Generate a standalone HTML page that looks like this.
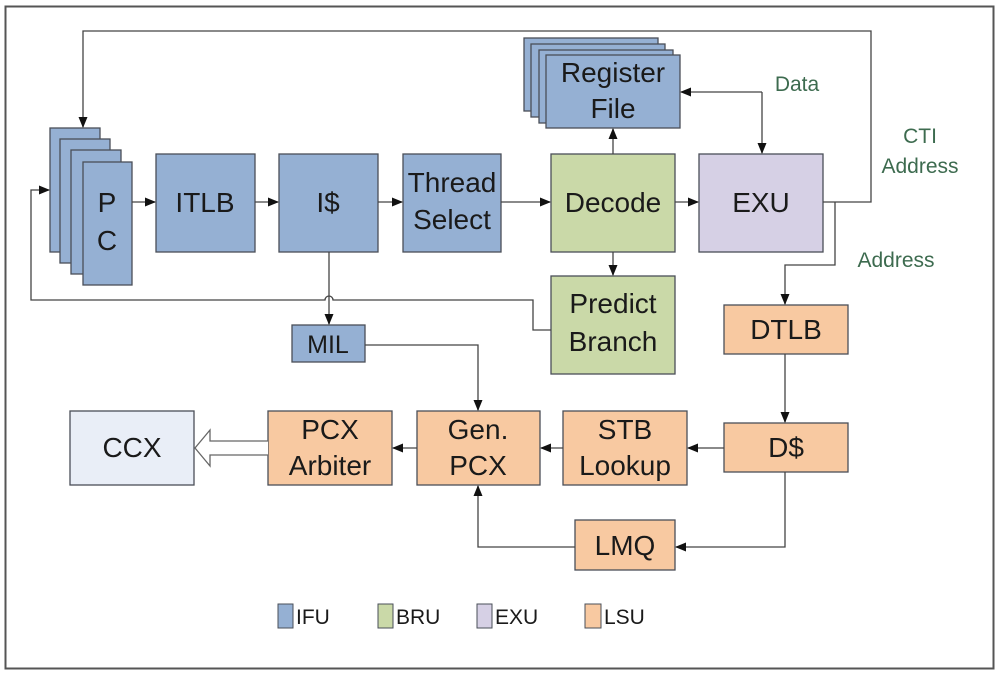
<!DOCTYPE html>
<html><head><meta charset="utf-8"><style>
html,body{margin:0;padding:0;background:#fff;}
svg{display:block;font-family:"Liberation Sans",sans-serif;}
.b{fill:#95b0d3;stroke:#4a4f58;stroke-width:1.3}
.g{fill:#cad9a8;stroke:#4a4f58;stroke-width:1.3}
.p{fill:#d6d0e5;stroke:#4a4f58;stroke-width:1.3}
.o{fill:#f8c9a1;stroke:#4a4f58;stroke-width:1.3}
.l{fill:none;stroke:#444;stroke-width:1.3}
.t{font-size:28px;fill:#1a1a1a;text-anchor:middle}
.lb{font-size:21px;fill:#3d6b4f;text-anchor:middle}
.lg{font-size:21px;fill:#1a1a1a}
</style></head><body>
<svg width="1000" height="680" viewBox="0 0 1000 680">
<defs><marker id="a" markerWidth="11" markerHeight="9" refX="10" refY="4.5" orient="auto" markerUnits="userSpaceOnUse"><path d="M0,0 L11,4.5 L0,9z" fill="#111"/></marker></defs>
<rect x="5.5" y="6.5" width="988" height="662" fill="#fff" stroke="#555" stroke-width="2"/>
<rect class="b" x="50" y="128" width="50" height="124"/>
<rect class="b" x="60" y="139" width="50" height="124"/>
<rect class="b" x="71" y="150" width="50" height="124"/>
<rect class="b" x="83" y="162" width="49" height="123"/>
<text class="t" x="107" y="212">P</text><text class="t" x="107" y="250">C</text>
<rect class="b" x="156" y="154" width="99" height="98"/><text class="t" x="205" y="212">ITLB</text>
<rect class="b" x="279" y="154" width="99" height="98"/><text class="t" x="328" y="212">I$</text>
<rect class="b" x="403" y="154" width="98" height="98"/><text class="t" x="452" y="192">Thread</text><text class="t" x="452" y="229">Select</text>
<rect class="g" x="551" y="154" width="124" height="98"/><text class="t" x="613" y="212">Decode</text>
<rect class="p" x="699" y="154" width="124" height="98"/><text class="t" x="761" y="212">EXU</text>
<rect class="b" x="524" y="38" width="134" height="73"/>
<rect class="b" x="531" y="44" width="134" height="73"/>
<rect class="b" x="539" y="50" width="134" height="73"/>
<rect class="b" x="546" y="55" width="134" height="73"/>
<text class="t" x="613" y="82">Register</text><text class="t" x="613" y="118">File</text>
<rect class="g" x="551" y="276" width="124" height="98"/><text class="t" x="613" y="313">Predict</text><text class="t" x="613" y="351">Branch</text>
<rect class="o" x="724" y="305" width="124" height="49"/><text class="t" x="786" y="339">DTLB</text>
<rect class="o" x="724" y="423" width="124" height="49"/><text class="t" x="786" y="457">D$</text>
<rect class="o" x="563" y="411" width="124" height="74"/><text class="t" x="625" y="439">STB</text><text class="t" x="625" y="475">Lookup</text>
<rect class="o" x="417" y="411" width="123" height="74"/><text class="t" x="478" y="439">Gen.</text><text class="t" x="478" y="475">PCX</text>
<rect class="o" x="268" y="411" width="124" height="74"/><text class="t" x="330" y="439">PCX</text><text class="t" x="330" y="475">Arbiter</text>
<rect x="70" y="411" width="124" height="74" fill="#e9eef7" stroke="#4a4f58" stroke-width="1.3"/><text class="t" x="132" y="457">CCX</text>
<rect class="o" x="575" y="520" width="100" height="50"/><text class="t" x="625" y="555">LMQ</text>
<rect class="b" x="292" y="325" width="73" height="37"/><text class="t" x="328" y="353" style="font-size:25px">MIL</text>
<path class="l" d="M132,202 H155" marker-end="url(#a)"/>
<path class="l" d="M255,202 H278" marker-end="url(#a)"/>
<path class="l" d="M378,202 H402" marker-end="url(#a)"/>
<path class="l" d="M501,202 H550" marker-end="url(#a)"/>
<path class="l" d="M675,202 H698" marker-end="url(#a)"/>
<path class="l" d="M823,202 H871 V31 H83 V127" marker-end="url(#a)"/>
<path class="l" d="M835,202 V265 H785 V304" marker-end="url(#a)"/>
<path class="l" d="M762,92 V153" marker-end="url(#a)"/>
<path class="l" d="M762,92 H681" marker-end="url(#a)"/>
<path class="l" d="M613,154 V129" marker-end="url(#a)"/>
<path class="l" d="M613,252 V275" marker-end="url(#a)"/>
<path class="l" d="M551,330 H533 V300 H333 A4,4 0 0 0 325,300 H31 V190 H49" marker-end="url(#a)"/>
<path class="l" d="M329,252 V324" marker-end="url(#a)"/>
<path class="l" d="M365,345 H478 V410" marker-end="url(#a)"/>
<path class="l" d="M785,354 V422" marker-end="url(#a)"/>
<path class="l" d="M724,448 H688" marker-end="url(#a)"/>
<path class="l" d="M563,448 H541" marker-end="url(#a)"/>
<path class="l" d="M417,448 H393" marker-end="url(#a)"/>
<path class="l" d="M785,472 V547 H676" marker-end="url(#a)"/>
<path class="l" d="M575,547 H478 V486" marker-end="url(#a)"/>
<path d="M268,441 H210 V430 L195,448 L210,466 V455 H268" fill="#fff" stroke="#666" stroke-width="1.3"/>
<text class="lb" x="797" y="91">Data</text>
<text class="lb" x="920" y="143">CTI</text>
<text class="lb" x="920" y="173">Address</text>
<text class="lb" x="896" y="267">Address</text>
<rect class="b" x="278" y="604" width="15" height="24" style="stroke-width:1"/><text class="lg" x="296" y="624">IFU</text>
<rect class="g" x="378" y="604" width="15" height="24" style="stroke-width:1"/><text class="lg" x="396" y="624">BRU</text>
<rect class="p" x="477" y="604" width="15" height="24" style="stroke-width:1"/><text class="lg" x="495" y="624">EXU</text>
<rect class="o" x="585" y="604" width="16" height="24" style="stroke-width:1"/><text class="lg" x="604" y="624">LSU</text>
</svg>
</body></html>
